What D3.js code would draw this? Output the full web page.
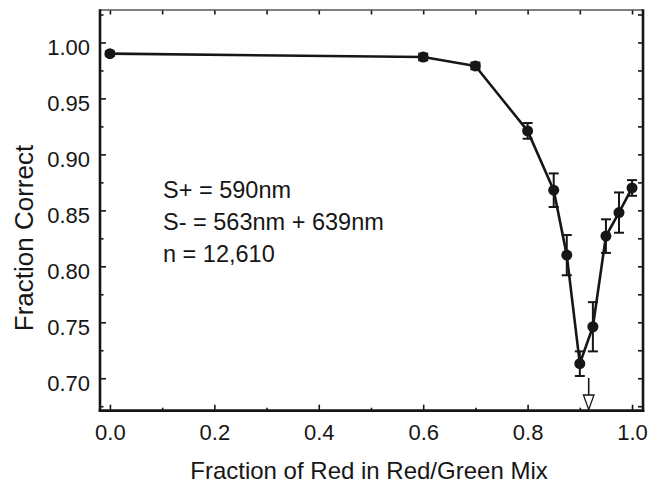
<!DOCTYPE html>
<html>
<head>
<meta charset="utf-8">
<script src="https://cdn.jsdelivr.net/npm/d3@7"></script>
<style>
  html, body { margin: 0; padding: 0; background: #fff; }
  svg { display: block; font-family: "Liberation Sans", Arial, Helvetica, sans-serif; }
</style>
</head>
<body>
<svg id="chart" width="650" height="483"></svg>
<script>
// Fraction of red light in the red/green mixture
const redFraction = [0.0, 0.6, 0.7, 0.8, 0.85, 0.875, 0.9, 0.925, 0.95, 0.975, 1.0];
// Fraction of trials answered correctly
const fractionCorrect = [0.990, 0.987, 0.979, 0.921, 0.868, 0.810, 0.713, 0.746, 0.827, 0.848, 0.870];
// Standard error for each point
const stdError = [0.002, 0.003, 0.003, 0.007, 0.015, 0.018, 0.011, 0.022, 0.015, 0.018, 0.007];

const xTickLabels = [0.0, 0.2, 0.4, 0.6, 0.8, 1.0];
const yTickLabels = [0.70, 0.75, 0.80, 0.85, 0.90, 0.95, 1.00];
const arrowAt = 0.917;
const annotation = ["S+ = 590nm", "S- = 563nm + 639nm", "n = 12,610"];

const ink = "#161616";
const svg = d3.select("#chart");

const plot = { left: 100, right: 643, top: 10, bottom: 410.7 };

const x = d3.scaleLinear().domain([-0.019, 1.021]).range([plot.left, plot.right]);
const y = d3.scaleLinear().domain([0.671, 1.029]).range([plot.bottom, plot.top]);

const range = (a, b, s) => d3.range(Math.round(a / s), Math.round(b / s) + 1).map(i => +(i * s).toFixed(4));
const yMinor = range(0.675, 1.025, 0.025).filter(v => !yTickLabels.some(t => Math.abs(t - v) < 1e-6));
const yAll = range(0.675, 1.025, 0.025);
const xTenths = range(0, 1, 0.1);
const xMinor = xTenths.filter(v => !xTickLabels.some(t => Math.abs(t - v) < 1e-6));

function styleAxis(g) {
  g.select(".domain").remove();
  g.selectAll(".tick line").attr("stroke", ink).attr("stroke-width", 1.6);
  g.selectAll(".tick text").attr("fill", ink);
}

// left axis: major with labels, minor ticks without
svg.append("g")
  .attr("transform", `translate(${plot.left},0)`)
  .call(d3.axisLeft(y).tickValues(yTickLabels).tickFormat(d3.format(".2f"))
        .tickSizeInner(-6).tickSizeOuter(0).tickPadding(10))
  .call(styleAxis)
  .call(g => g.selectAll(".tick text").attr("font-size", 22).attr("dy", "0.55em"));
svg.append("g")
  .attr("transform", `translate(${plot.left},0)`)
  .call(d3.axisLeft(y).tickValues(yMinor).tickFormat("").tickSizeInner(-3.5).tickSizeOuter(0))
  .call(styleAxis);

// right axis: inward ticks every 0.025
svg.append("g")
  .attr("transform", `translate(${plot.right},0)`)
  .call(d3.axisRight(y).tickValues(yAll).tickFormat("").tickSizeInner(-5).tickSizeOuter(0))
  .call(styleAxis);

// bottom axis
svg.append("g")
  .attr("transform", `translate(0,${plot.bottom})`)
  .call(d3.axisBottom(x).tickValues(xTickLabels).tickFormat(d3.format(".1f"))
        .tickSizeInner(-6).tickSizeOuter(0).tickPadding(14))
  .call(styleAxis)
  .call(g => g.selectAll(".tick text").attr("font-size", 22).attr("dy", "0.71em"));
svg.append("g")
  .attr("transform", `translate(0,${plot.bottom})`)
  .call(d3.axisBottom(x).tickValues(xMinor).tickFormat("").tickSizeInner(-3).tickSizeOuter(0))
  .call(styleAxis);

// top axis: ticks every 0.1
svg.append("g")
  .attr("transform", `translate(0,${plot.top})`)
  .call(d3.axisTop(x).tickValues(xTenths).tickFormat("").tickSizeInner(-4.5).tickSizeOuter(0))
  .call(styleAxis);

// frame
const frame = svg.append("g").attr("stroke", ink).attr("fill", "none");
frame.append("line").attr("x1", plot.left).attr("x2", plot.right).attr("y1", plot.top).attr("y2", plot.top)
  .attr("stroke-width", 1.5).attr("stroke", "#555");
frame.append("line").attr("x1", plot.left).attr("x2", plot.left).attr("y1", plot.top - 0.7).attr("y2", plot.bottom + 1.3)
  .attr("stroke-width", 2.6);
frame.append("line").attr("x1", plot.right).attr("x2", plot.right).attr("y1", plot.top - 0.7).attr("y2", plot.bottom + 1.3)
  .attr("stroke-width", 2.6);
frame.append("line").attr("x1", plot.left - 1.3).attr("x2", plot.right + 1.3).attr("y1", plot.bottom).attr("y2", plot.bottom)
  .attr("stroke-width", 2.8);

// data
const data = redFraction.map((r, i) => ({ r, p: fractionCorrect[i], e: stdError[i] }));

const line = d3.line().x(d => x(d.r)).y(d => y(d.p));
svg.append("path").datum(data)
  .attr("d", line).attr("fill", "none").attr("stroke", ink)
  .attr("stroke-width", 2.6).attr("stroke-linejoin", "round");

// error bars
const eb = svg.append("g").attr("stroke", ink).attr("stroke-width", 2);
const cap = 5;
data.forEach(d => {
  const cx = x(d.r), y0 = y(d.p - d.e), y1 = y(d.p + d.e);
  eb.append("line").attr("x1", cx).attr("x2", cx).attr("y1", y0).attr("y2", y1);
  eb.append("line").attr("x1", cx - cap).attr("x2", cx + cap).attr("y1", y0).attr("y2", y0);
  eb.append("line").attr("x1", cx - cap).attr("x2", cx + cap).attr("y1", y1).attr("y2", y1);
});

// markers
svg.append("g").selectAll("circle").data(data).join("circle")
  .attr("cx", d => x(d.r)).attr("cy", d => y(d.p)).attr("r", 5.5).attr("fill", ink);

// arrow marking the estimated crossover point
const ax = x(arrowAt);
const arrow = svg.append("g").attr("stroke", ink).attr("stroke-width", 1.6);
arrow.append("line").attr("x1", ax).attr("x2", ax).attr("y1", 378).attr("y2", 395);
arrow.append("path")
  .attr("d", `M${ax - 5.3},395 L${ax + 5.3},395 L${ax},${plot.bottom - 1} Z`)
  .attr("fill", "#fff").attr("stroke-width", 1.3);

// annotation block
svg.append("g").selectAll("text").data(annotation).join("text")
  .attr("x", 163).attr("y", (d, i) => 198.3 + i * 31.7)
  .attr("font-size", 23.5).attr("fill", ink).text(d => d);

// axis titles
svg.append("text")
  .attr("x", (plot.left + plot.right) / 2 - 2.5).attr("y", 479)
  .attr("text-anchor", "middle").attr("font-size", 24).attr("fill", ink)
  .text("Fraction of Red in Red/Green Mix");
svg.append("text")
  .attr("transform", "translate(33,238) rotate(-90)")
  .attr("text-anchor", "middle").attr("font-size", 26).attr("fill", ink)
  .text("Fraction Correct");
</script>
</body>
</html>
